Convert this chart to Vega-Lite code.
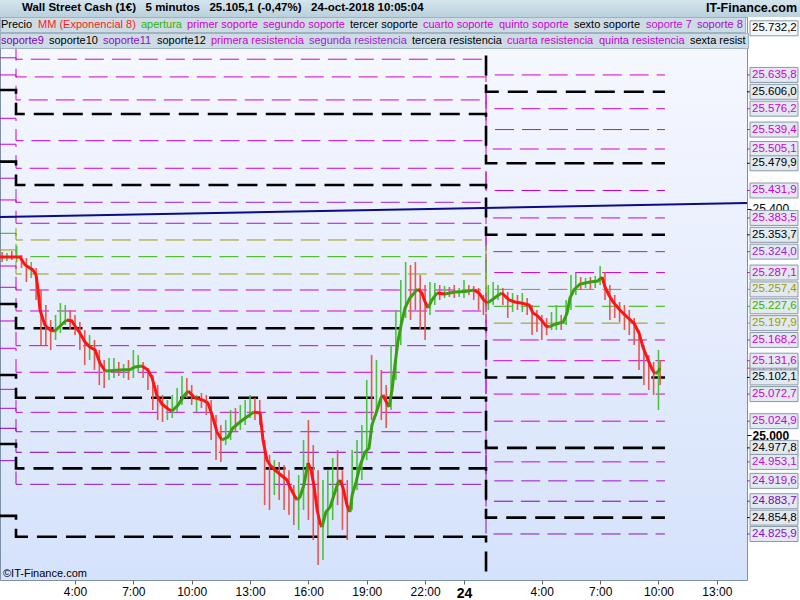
{
"$schema": "https://vega.github.io/schema/vega-lite/v6.json",
"width": 747, "height": 563,
"autosize": {"type": "none"},
"padding": {"left": 0, "top": 17, "right": 53, "bottom": 20},
"background": "#ffffff",
"view": {"fill": {"gradient": "linear", "x1": 0, "y1": 0, "x2": 0, "y2": 1, "stops": [{"offset": 0, "color": "#f8f9ff"}, {"offset": 1, "color": "#d5e2fb"}]}, "stroke": "#7d91a4", "strokeWidth": 1},
"config": {"font": "Liberation Sans", "locale": {"number": {"decimal": ",", "thousands": ".", "grouping": [3], "currency": ["", " €"]}}},
"datasets": {
"niveles": [
{"serie":"undécima resistencia","t":"2018-10-23T00:08","v":25763},{"serie":"undécima resistencia","t":"2018-10-23T00:58","v":25722.3},{"serie":"undécima resistencia","t":"2018-10-24T01:08","v":25635.8},{"serie":"undécima resistencia","t":"2018-10-24T10:20","v":25635.8},
{"serie":"décima resistencia","t":"2018-10-23T00:08","v":25733},{"serie":"décima resistencia","t":"2018-10-23T00:58","v":25692.5},{"serie":"décima resistencia","t":"2018-10-24T01:08","v":25606.0},{"serie":"décima resistencia","t":"2018-10-24T10:20","v":25606.0},
{"serie":"novena resistencia","t":"2018-10-23T00:08","v":25704},{"serie":"novena resistencia","t":"2018-10-23T00:58","v":25663.5},{"serie":"novena resistencia","t":"2018-10-24T01:08","v":25576.2},{"serie":"novena resistencia","t":"2018-10-24T10:20","v":25576.2},
{"serie":"octava resistencia","t":"2018-10-23T00:08","v":25666},{"serie":"octava resistencia","t":"2018-10-23T00:58","v":25632.3},{"serie":"octava resistencia","t":"2018-10-24T01:08","v":25539.4},{"serie":"octava resistencia","t":"2018-10-24T10:20","v":25539.4},
{"serie":"séptima resistencia","t":"2018-10-23T00:08","v":25635.8},{"serie":"séptima resistencia","t":"2018-10-23T00:58","v":25591.7},{"serie":"séptima resistencia","t":"2018-10-24T01:08","v":25505.1},{"serie":"séptima resistencia","t":"2018-10-24T10:20","v":25505.1},
{"serie":"sexta resistencia","t":"2018-10-23T00:08","v":25609.3},{"serie":"sexta resistencia","t":"2018-10-23T00:58","v":25566.9},{"serie":"sexta resistencia","t":"2018-10-24T01:08","v":25479.9},{"serie":"sexta resistencia","t":"2018-10-24T10:20","v":25479.9},
{"serie":"quinta resistencia","t":"2018-10-23T00:08","v":25559.3},{"serie":"quinta resistencia","t":"2018-10-23T00:58","v":25519.8},{"serie":"quinta resistencia","t":"2018-10-24T01:08","v":25431.9},{"serie":"quinta resistencia","t":"2018-10-24T10:20","v":25431.9},
{"serie":"cuarta resistencia","t":"2018-10-23T00:08","v":25513.5},{"serie":"cuarta resistencia","t":"2018-10-23T00:58","v":25471.1},{"serie":"cuarta resistencia","t":"2018-10-24T01:08","v":25383.5},{"serie":"cuarta resistencia","t":"2018-10-24T10:20","v":25383.5},
{"serie":"tercera resistencia","t":"2018-10-23T00:08","v":25482.8},{"serie":"tercera resistencia","t":"2018-10-23T00:58","v":25441.6},{"serie":"tercera resistencia","t":"2018-10-24T01:08","v":25353.7},{"serie":"tercera resistencia","t":"2018-10-24T10:20","v":25353.7},
{"serie":"segunda resistencia","t":"2018-10-23T00:08","v":25453.5},{"serie":"segunda resistencia","t":"2018-10-23T00:58","v":25411.1},{"serie":"segunda resistencia","t":"2018-10-24T01:08","v":25324.0},{"serie":"segunda resistencia","t":"2018-10-24T10:20","v":25324.0},
{"serie":"primera resistencia","t":"2018-10-23T00:08","v":25415.2},{"serie":"primera resistencia","t":"2018-10-23T00:58","v":25374.1},{"serie":"primera resistencia","t":"2018-10-24T01:08","v":25287.1},{"serie":"primera resistencia","t":"2018-10-24T10:20","v":25287.1},
{"serie":"apertura alta","t":"2018-10-23T00:08","v":25385.2},{"serie":"apertura alta","t":"2018-10-23T00:58","v":25344.6},{"serie":"apertura alta","t":"2018-10-24T01:08","v":25257.4},{"serie":"apertura alta","t":"2018-10-24T10:20","v":25257.4},
{"serie":"apertura","t":"2018-10-23T00:08","v":25356.4},{"serie":"apertura","t":"2018-10-23T00:58","v":25315.1},{"serie":"apertura","t":"2018-10-24T01:08","v":25227.6},{"serie":"apertura","t":"2018-10-24T10:20","v":25227.6},
{"serie":"apertura baja","t":"2018-10-23T00:08","v":25327.0},{"serie":"apertura baja","t":"2018-10-23T00:58","v":25284.6},{"serie":"apertura baja","t":"2018-10-24T01:08","v":25197.9},{"serie":"apertura baja","t":"2018-10-24T10:20","v":25197.9},
{"serie":"primer soporte","t":"2018-10-23T00:08","v":25298.7},{"serie":"primer soporte","t":"2018-10-23T00:58","v":25256.4},{"serie":"primer soporte","t":"2018-10-24T01:08","v":25168.2},{"serie":"primer soporte","t":"2018-10-24T10:20","v":25168.2},
{"serie":"segundo soporte","t":"2018-10-23T00:08","v":25261.1},{"serie":"segundo soporte","t":"2018-10-23T00:58","v":25219.3},{"serie":"segundo soporte","t":"2018-10-24T01:08","v":25131.6},{"serie":"segundo soporte","t":"2018-10-24T10:20","v":25131.6},
{"serie":"tercer soporte","t":"2018-10-23T00:08","v":25231.7},{"serie":"tercer soporte","t":"2018-10-23T00:58","v":25188.8},{"serie":"tercer soporte","t":"2018-10-24T01:08","v":25102.1},{"serie":"tercer soporte","t":"2018-10-24T10:20","v":25102.1},
{"serie":"cuarto soporte","t":"2018-10-23T00:08","v":25201.7},{"serie":"cuarto soporte","t":"2018-10-23T00:58","v":25158.1},{"serie":"cuarto soporte","t":"2018-10-24T01:08","v":25072.7},{"serie":"cuarto soporte","t":"2018-10-24T10:20","v":25072.7},
{"serie":"quinto soporte","t":"2018-10-23T00:08","v":25153.5},{"serie":"quinto soporte","t":"2018-10-23T00:58","v":25111.2},{"serie":"quinto soporte","t":"2018-10-24T01:08","v":25024.9},{"serie":"quinto soporte","t":"2018-10-24T10:20","v":25024.9},
{"serie":"sexto soporte","t":"2018-10-23T00:08","v":25106.4},{"serie":"sexto soporte","t":"2018-10-23T00:58","v":25066.3},{"serie":"sexto soporte","t":"2018-10-24T01:08","v":24977.8},{"serie":"sexto soporte","t":"2018-10-24T10:20","v":24977.8},
{"serie":"soporte 7","t":"2018-10-23T00:08","v":25081.1},{"serie":"soporte 7","t":"2018-10-23T00:58","v":25040.5},{"serie":"soporte 7","t":"2018-10-24T01:08","v":24953.1},{"serie":"soporte 7","t":"2018-10-24T10:20","v":24953.1},
{"serie":"soporte 8","t":"2018-10-23T00:08","v":25047.6},{"serie":"soporte 8","t":"2018-10-23T00:58","v":25006.3},{"serie":"soporte 8","t":"2018-10-24T01:08","v":24919.6},{"serie":"soporte 8","t":"2018-10-24T10:20","v":24919.6},
{"serie":"soporte9","t":"2018-10-23T00:08","v":25012.3},{"serie":"soporte9","t":"2018-10-23T00:58","v":24970.0},{"serie":"soporte9","t":"2018-10-24T01:08","v":24883.7},{"serie":"soporte9","t":"2018-10-24T10:20","v":24883.7},
{"serie":"soporte10","t":"2018-10-23T00:08","v":24984.6},{"serie":"soporte10","t":"2018-10-23T00:58","v":24941.7},{"serie":"soporte10","t":"2018-10-24T01:08","v":24854.8},{"serie":"soporte10","t":"2018-10-24T10:20","v":24854.8},
{"serie":"soporte11","t":"2018-10-23T00:08","v":24955.2},{"serie":"soporte11","t":"2018-10-23T00:58","v":24913.5},{"serie":"soporte11","t":"2018-10-24T01:08","v":24825.9},{"serie":"soporte11","t":"2018-10-24T10:20","v":24825.9},
{"serie":"soporte12","t":"2018-10-23T00:08","v":24857.9},{"serie":"soporte12","t":"2018-10-23T00:58","v":24821.1},{"serie":"soporte12","t":"2018-10-24T01:08","v":24734.0},{"serie":"soporte12","t":"2018-10-24T10:20","v":24734.0}
],
"tendencia": [{"t":"2018-10-23T00:08:36","v":25385.2},{"t":"2018-10-24T14:33:06","v":25409.9}],
"velas": [
{"t":"2018-10-23T00:15","lo":25305.8,"hi":25323.4,"sentido":"baja"},
{"t":"2018-10-23T00:30","lo":25307.5,"hi":25321.6,"sentido":"sube"},
{"t":"2018-10-23T00:45","lo":25309.3,"hi":25325.2,"sentido":"baja"},
{"t":"2018-10-23T01:00","lo":25305.8,"hi":25334.0,"sentido":"sube"},
{"t":"2018-10-23T01:15","lo":25295.2,"hi":25318.1,"sentido":"baja"},
{"t":"2018-10-23T01:30","lo":25270.5,"hi":25312.8,"sentido":"baja"},
{"t":"2018-10-23T01:45","lo":25277.5,"hi":25305.8,"sentido":"sube"},
{"t":"2018-10-23T02:00","lo":25238.7,"hi":25295.2,"sentido":"baja"},
{"t":"2018-10-23T02:15","lo":25159.3,"hi":25256.4,"sentido":"baja"},
{"t":"2018-10-23T02:30","lo":25159.3,"hi":25229.9,"sentido":"baja"},
{"t":"2018-10-23T02:45","lo":25150.5,"hi":25203.4,"sentido":"baja"},
{"t":"2018-10-23T03:00","lo":25168.1,"hi":25212.2,"sentido":"sube"},
{"t":"2018-10-23T03:15","lo":25180.5,"hi":25233.4,"sentido":"sube"},
{"t":"2018-10-23T03:30","lo":25194.6,"hi":25229.9,"sentido":"sube"},
{"t":"2018-10-23T03:45","lo":25185.8,"hi":25221.1,"sentido":"baja"},
{"t":"2018-10-23T04:00","lo":25176.9,"hi":25212.2,"sentido":"baja"},
{"t":"2018-10-23T04:15","lo":25150.5,"hi":25199.9,"sentido":"baja"},
{"t":"2018-10-23T04:30","lo":25124.0,"hi":25185.8,"sentido":"baja"},
{"t":"2018-10-23T04:45","lo":25132.9,"hi":25176.9,"sentido":"sube"},
{"t":"2018-10-23T05:00","lo":25115.2,"hi":25168.1,"sentido":"baja"},
{"t":"2018-10-23T05:15","lo":25088.7,"hi":25150.5,"sentido":"baja"},
{"t":"2018-10-23T05:30","lo":25083.4,"hi":25132.9,"sentido":"baja"},
{"t":"2018-10-23T05:45","lo":25097.6,"hi":25136.4,"sentido":"sube"},
{"t":"2018-10-23T06:00","lo":25101.1,"hi":25136.4,"sentido":"sube"},
{"t":"2018-10-23T06:15","lo":25104.6,"hi":25129.3,"sentido":"baja"},
{"t":"2018-10-23T06:30","lo":25101.1,"hi":25125.8,"sentido":"sube"},
{"t":"2018-10-23T06:45","lo":25097.6,"hi":25132.9,"sentido":"baja"},
{"t":"2018-10-23T07:00","lo":25101.1,"hi":25150.5,"sentido":"sube"},
{"t":"2018-10-23T07:15","lo":25111.7,"hi":25141.6,"sentido":"sube"},
{"t":"2018-10-23T07:30","lo":25101.1,"hi":25129.3,"sentido":"baja"},
{"t":"2018-10-23T07:45","lo":25079.9,"hi":25118.7,"sentido":"baja"},
{"t":"2018-10-23T08:00","lo":25044.6,"hi":25106.4,"sentido":"baja"},
{"t":"2018-10-23T08:15","lo":25026.8,"hi":25088.7,"sentido":"baja"},
{"t":"2018-10-23T08:30","lo":25023.4,"hi":25071.1,"sentido":"baja"},
{"t":"2018-10-23T08:45","lo":25026.8,"hi":25062.3,"sentido":"sube"},
{"t":"2018-10-23T09:00","lo":25030.5,"hi":25071.1,"sentido":"sube"},
{"t":"2018-10-23T09:15","lo":25041.1,"hi":25083.4,"sentido":"sube"},
{"t":"2018-10-23T09:30","lo":25053.5,"hi":25104.6,"sentido":"sube"},
{"t":"2018-10-23T09:45","lo":25065.8,"hi":25101.1,"sentido":"baja"},
{"t":"2018-10-23T10:00","lo":25053.5,"hi":25088.7,"sentido":"baja"},
{"t":"2018-10-23T10:15","lo":25041.1,"hi":25071.1,"sentido":"sube"},
{"t":"2018-10-23T10:30","lo":25048.1,"hi":25074.6,"sentido":"baja"},
{"t":"2018-10-23T10:45","lo":25035.8,"hi":25071.1,"sentido":"baja"},
{"t":"2018-10-23T11:00","lo":24991.7,"hi":25062.3,"sentido":"baja"},
{"t":"2018-10-23T11:15","lo":24956.3,"hi":25035.8,"sentido":"baja"},
{"t":"2018-10-23T11:30","lo":24952.8,"hi":25018.2,"sentido":"baja"},
{"t":"2018-10-23T11:45","lo":24982.8,"hi":25026.8,"sentido":"sube"},
{"t":"2018-10-23T12:00","lo":24991.7,"hi":25044.6,"sentido":"sube"},
{"t":"2018-10-23T12:15","lo":25005.8,"hi":25048.1,"sentido":"baja"},
{"t":"2018-10-23T12:30","lo":25009.3,"hi":25053.5,"sentido":"sube"},
{"t":"2018-10-23T12:45","lo":25018.2,"hi":25062.3,"sentido":"sube"},
{"t":"2018-10-23T13:00","lo":25030.5,"hi":25071.1,"sentido":"sube"},
{"t":"2018-10-23T13:15","lo":25026.8,"hi":25065.8,"sentido":"baja"},
{"t":"2018-10-23T13:30","lo":25018.2,"hi":25062.3,"sentido":"baja"},
{"t":"2018-10-23T13:45","lo":24876.9,"hi":24991.7,"sentido":"baja"},
{"t":"2018-10-23T14:00","lo":24868.2,"hi":24965.2,"sentido":"baja"},
{"t":"2018-10-23T14:15","lo":24894.6,"hi":24956.3,"sentido":"sube"},
{"t":"2018-10-23T14:30","lo":24885.8,"hi":24952.8,"sentido":"baja"},
{"t":"2018-10-23T14:45","lo":24868.2,"hi":24947.4,"sentido":"baja"},
{"t":"2018-10-23T15:00","lo":24859.4,"hi":24938.5,"sentido":"baja"},
{"t":"2018-10-23T15:15","lo":24841.7,"hi":24912.2,"sentido":"baja"},
{"t":"2018-10-23T15:30","lo":24832.9,"hi":24929.8,"sentido":"sube"},
{"t":"2018-10-23T15:45","lo":24868.2,"hi":24991.7,"sentido":"sube"},
{"t":"2018-10-23T16:00","lo":24850.5,"hi":25026.8,"sentido":"baja"},
{"t":"2018-10-23T16:15","lo":24815.2,"hi":24982.8,"sentido":"baja"},
{"t":"2018-10-23T16:30","lo":24771.1,"hi":24938.5,"sentido":"baja"},
{"t":"2018-10-23T16:45","lo":24779.9,"hi":24921.0,"sentido":"sube"},
{"t":"2018-10-23T17:00","lo":24824.0,"hi":24938.5,"sentido":"sube"},
{"t":"2018-10-23T17:15","lo":24850.5,"hi":24959.9,"sentido":"sube"},
{"t":"2018-10-23T17:30","lo":24876.9,"hi":24974.0,"sentido":"baja"},
{"t":"2018-10-23T17:45","lo":24832.9,"hi":24938.5,"sentido":"baja"},
{"t":"2018-10-23T18:00","lo":24815.2,"hi":24921.0,"sentido":"baja"},
{"t":"2018-10-23T18:15","lo":24868.2,"hi":24974.0,"sentido":"sube"},
{"t":"2018-10-23T18:30","lo":24903.4,"hi":24991.7,"sentido":"sube"},
{"t":"2018-10-23T18:45","lo":24921.0,"hi":25018.2,"sentido":"sube"},
{"t":"2018-10-23T19:00","lo":24956.3,"hi":25097.6,"sentido":"sube"},
{"t":"2018-10-23T19:15","lo":25026.8,"hi":25141.6,"sentido":"baja"},
{"t":"2018-10-23T19:30","lo":25041.1,"hi":25132.9,"sentido":"sube"},
{"t":"2018-10-23T19:45","lo":25026.8,"hi":25115.2,"sentido":"baja"},
{"t":"2018-10-23T20:00","lo":25012.8,"hi":25088.7,"sentido":"baja"},
{"t":"2018-10-23T20:15","lo":25044.6,"hi":25159.3,"sentido":"sube"},
{"t":"2018-10-23T20:30","lo":25097.6,"hi":25221.1,"sentido":"sube"},
{"t":"2018-10-23T20:45","lo":25159.3,"hi":25274.0,"sentido":"sube"},
{"t":"2018-10-23T21:00","lo":25206.9,"hi":25305.8,"sentido":"sube"},
{"t":"2018-10-23T21:15","lo":25203.4,"hi":25300.5,"sentido":"baja"},
{"t":"2018-10-23T21:30","lo":25221.1,"hi":25305.8,"sentido":"baja"},
{"t":"2018-10-23T21:45","lo":25185.8,"hi":25282.8,"sentido":"baja"},
{"t":"2018-10-23T22:00","lo":25168.1,"hi":25265.2,"sentido":"baja"},
{"t":"2018-10-23T22:15","lo":25212.2,"hi":25270.5,"sentido":"sube"},
{"t":"2018-10-23T22:30","lo":25229.9,"hi":25268.7,"sentido":"sube"},
{"t":"2018-10-23T22:45","lo":25238.7,"hi":25265.2,"sentido":"baja"},
{"t":"2018-10-23T23:00","lo":25242.3,"hi":25263.4,"sentido":"sube"},
{"t":"2018-10-23T23:15","lo":25244.0,"hi":25261.6,"sentido":"baja"},
{"t":"2018-10-23T23:30","lo":25242.3,"hi":25265.2,"sentido":"baja"},
{"t":"2018-10-23T23:45","lo":25244.0,"hi":25259.9,"sentido":"sube"},
{"t":"2018-10-24T00:00","lo":25242.3,"hi":25274.0,"sentido":"sube"},
{"t":"2018-10-24T00:15","lo":25247.6,"hi":25265.2,"sentido":"baja"},
{"t":"2018-10-24T00:30","lo":25238.7,"hi":25263.4,"sentido":"baja"},
{"t":"2018-10-24T00:45","lo":25221.1,"hi":25259.9,"sentido":"baja"},
{"t":"2018-10-24T01:00","lo":25212.2,"hi":25247.6,"sentido":"baja"},
{"t":"2018-10-24T01:15","lo":25221.1,"hi":25265.2,"sentido":"sube"},
{"t":"2018-10-24T01:30","lo":25229.9,"hi":25270.5,"sentido":"sube"},
{"t":"2018-10-24T01:45","lo":25238.7,"hi":25265.2,"sentido":"sube"},
{"t":"2018-10-24T02:00","lo":25229.9,"hi":25259.9,"sentido":"baja"},
{"t":"2018-10-24T02:15","lo":25206.9,"hi":25252.8,"sentido":"baja"},
{"t":"2018-10-24T02:30","lo":25217.5,"hi":25251.1,"sentido":"sube"},
{"t":"2018-10-24T02:45","lo":25221.1,"hi":25247.6,"sentido":"baja"},
{"t":"2018-10-24T03:00","lo":25217.5,"hi":25251.1,"sentido":"sube"},
{"t":"2018-10-24T03:15","lo":25212.2,"hi":25242.3,"sentido":"baja"},
{"t":"2018-10-24T03:30","lo":25176.9,"hi":25229.9,"sentido":"baja"},
{"t":"2018-10-24T03:45","lo":25182.2,"hi":25221.1,"sentido":"baja"},
{"t":"2018-10-24T04:00","lo":25168.1,"hi":25212.2,"sentido":"baja"},
{"t":"2018-10-24T04:15","lo":25176.9,"hi":25206.9,"sentido":"baja"},
{"t":"2018-10-24T04:30","lo":25185.8,"hi":25217.5,"sentido":"sube"},
{"t":"2018-10-24T04:45","lo":25185.8,"hi":25229.9,"sentido":"sube"},
{"t":"2018-10-24T05:00","lo":25185.8,"hi":25212.2,"sentido":"baja"},
{"t":"2018-10-24T05:15","lo":25194.6,"hi":25238.7,"sentido":"sube"},
{"t":"2018-10-24T05:30","lo":25221.1,"hi":25282.8,"sentido":"sube"},
{"t":"2018-10-24T05:45","lo":25247.6,"hi":25286.4,"sentido":"sube"},
{"t":"2018-10-24T06:00","lo":25256.4,"hi":25279.3,"sentido":"baja"},
{"t":"2018-10-24T06:15","lo":25259.9,"hi":25277.5,"sentido":"sube"},
{"t":"2018-10-24T06:30","lo":25258.1,"hi":25279.3,"sentido":"baja"},
{"t":"2018-10-24T06:45","lo":25259.9,"hi":25281.1,"sentido":"sube"},
{"t":"2018-10-24T07:00","lo":25265.2,"hi":25298.7,"sentido":"sube"},
{"t":"2018-10-24T07:15","lo":25238.7,"hi":25288.1,"sentido":"baja"},
{"t":"2018-10-24T07:30","lo":25203.4,"hi":25265.2,"sentido":"baja"},
{"t":"2018-10-24T07:45","lo":25206.9,"hi":25247.6,"sentido":"baja"},
{"t":"2018-10-24T08:00","lo":25199.9,"hi":25235.2,"sentido":"baja"},
{"t":"2018-10-24T08:15","lo":25185.8,"hi":25229.9,"sentido":"baja"},
{"t":"2018-10-24T08:30","lo":25176.9,"hi":25221.1,"sentido":"baja"},
{"t":"2018-10-24T08:45","lo":25159.3,"hi":25206.9,"sentido":"baja"},
{"t":"2018-10-24T09:00","lo":25115.2,"hi":25185.8,"sentido":"baja"},
{"t":"2018-10-24T09:15","lo":25088.7,"hi":25159.3,"sentido":"baja"},
{"t":"2018-10-24T09:30","lo":25079.9,"hi":25141.6,"sentido":"baja"},
{"t":"2018-10-24T09:45","lo":25071.1,"hi":25129.3,"sentido":"baja"},
{"t":"2018-10-24T10:00","lo":25044.6,"hi":25150.5,"sentido":"sube"},
{"t":"2018-10-24T10:05","lo":25088.7,"hi":25132.9,"sentido":"baja"}
],
"mm": [
{"t":"2018-10-23T00:09","v":25314.6,"tramo":1,"sentido":"baja"},{"t":"2018-10-23T01:10","v":25314.6,"tramo":1,"sentido":"baja"},{"t":"2018-10-23T01:26","v":25300.5,"tramo":1,"sentido":"baja"},{"t":"2018-10-23T01:50","v":25291.7,"tramo":1,"sentido":"baja"},{"t":"2018-10-23T02:00","v":25282.9,"tramo":1,"sentido":"baja"},{"t":"2018-10-23T02:06","v":25256.4,"tramo":1,"sentido":"baja"},{"t":"2018-10-23T02:12","v":25221.1,"tramo":1,"sentido":"baja"},{"t":"2018-10-23T02:27","v":25194.6,"tramo":1,"sentido":"baja"},{"t":"2018-10-23T02:43","v":25185.8,"tramo":1,"sentido":"baja"},{"t":"2018-10-23T02:58","v":25184.0,"tramo":1,"sentido":"baja"},
{"t":"2018-10-23T02:58","v":25184.0,"tramo":2,"sentido":"sube"},{"t":"2018-10-23T03:14","v":25192.8,"tramo":2,"sentido":"sube"},{"t":"2018-10-23T03:34","v":25203.4,"tramo":2,"sentido":"sube"},
{"t":"2018-10-23T03:34","v":25203.4,"tramo":3,"sentido":"baja"},{"t":"2018-10-23T03:50","v":25201.7,"tramo":3,"sentido":"baja"},{"t":"2018-10-23T04:00","v":25192.8,"tramo":3,"sentido":"baja"},{"t":"2018-10-23T04:15","v":25180.5,"tramo":3,"sentido":"baja"},{"t":"2018-10-23T04:31","v":25164.6,"tramo":3,"sentido":"baja"},{"t":"2018-10-23T04:46","v":25155.8,"tramo":3,"sentido":"baja"},{"t":"2018-10-23T05:02","v":25150.5,"tramo":3,"sentido":"baja"},{"t":"2018-10-23T05:17","v":25127.5,"tramo":3,"sentido":"baja"},{"t":"2018-10-23T05:33","v":25113.4,"tramo":3,"sentido":"baja"},
{"t":"2018-10-23T05:33","v":25113.4,"tramo":4,"sentido":"sube"},{"t":"2018-10-23T05:48","v":25113.9,"tramo":4,"sentido":"sube"},{"t":"2018-10-23T06:19","v":25115.2,"tramo":4,"sentido":"sube"},{"t":"2018-10-23T06:50","v":25116.0,"tramo":4,"sentido":"sube"},{"t":"2018-10-23T07:05","v":25120.5,"tramo":4,"sentido":"sube"},{"t":"2018-10-23T07:27","v":25122.3,"tramo":4,"sentido":"sube"},
{"t":"2018-10-23T07:27","v":25122.3,"tramo":5,"sentido":"baja"},{"t":"2018-10-23T07:45","v":25115.2,"tramo":5,"sentido":"baja"},{"t":"2018-10-23T07:58","v":25101.1,"tramo":5,"sentido":"baja"},{"t":"2018-10-23T08:13","v":25069.3,"tramo":5,"sentido":"baja"},{"t":"2018-10-23T08:28","v":25055.2,"tramo":5,"sentido":"baja"},{"t":"2018-10-23T08:47","v":25046.4,"tramo":5,"sentido":"baja"},{"t":"2018-10-23T08:59","v":25042.8,"tramo":5,"sentido":"baja"},
{"t":"2018-10-23T08:59","v":25042.8,"tramo":6,"sentido":"sube"},{"t":"2018-10-23T09:18","v":25053.5,"tramo":6,"sentido":"sube"},{"t":"2018-10-23T09:36","v":25069.3,"tramo":6,"sentido":"sube"},{"t":"2018-10-23T09:49","v":25078.1,"tramo":6,"sentido":"sube"},
{"t":"2018-10-23T09:49","v":25078.1,"tramo":7,"sentido":"baja"},{"t":"2018-10-23T10:10","v":25065.8,"tramo":7,"sentido":"baja"},{"t":"2018-10-23T10:35","v":25062.2,"tramo":7,"sentido":"baja"},{"t":"2018-10-23T10:50","v":25056.9,"tramo":7,"sentido":"baja"},{"t":"2018-10-23T11:03","v":25035.8,"tramo":7,"sentido":"baja"},{"t":"2018-10-23T11:18","v":25005.8,"tramo":7,"sentido":"baja"},{"t":"2018-10-23T11:33","v":24991.7,"tramo":7,"sentido":"baja"},
{"t":"2018-10-23T11:33","v":24991.7,"tramo":8,"sentido":"sube"},{"t":"2018-10-23T11:52","v":24996.9,"tramo":8,"sentido":"sube"},{"t":"2018-10-23T12:07","v":25012.8,"tramo":8,"sentido":"sube"},{"t":"2018-10-23T12:29","v":25023.4,"tramo":8,"sentido":"sube"},{"t":"2018-10-23T12:54","v":25034.0,"tramo":8,"sentido":"sube"},{"t":"2018-10-23T13:12","v":25041.1,"tramo":8,"sentido":"sube"},
{"t":"2018-10-23T13:12","v":25041.1,"tramo":9,"sentido":"baja"},{"t":"2018-10-23T13:31","v":25039.3,"tramo":9,"sentido":"baja"},{"t":"2018-10-23T13:40","v":24991.7,"tramo":9,"sentido":"baja"},{"t":"2018-10-23T13:52","v":24956.5,"tramo":9,"sentido":"baja"},{"t":"2018-10-23T14:02","v":24947.6,"tramo":9,"sentido":"baja"},{"t":"2018-10-23T14:17","v":24938.7,"tramo":9,"sentido":"baja"},{"t":"2018-10-23T14:39","v":24928.2,"tramo":9,"sentido":"baja"},{"t":"2018-10-23T14:54","v":24921.1,"tramo":9,"sentido":"baja"},{"t":"2018-10-23T15:03","v":24908.7,"tramo":9,"sentido":"baja"},{"t":"2018-10-23T15:16","v":24894.6,"tramo":9,"sentido":"baja"},{"t":"2018-10-23T15:25","v":24885.8,"tramo":9,"sentido":"baja"},
{"t":"2018-10-23T15:25","v":24885.8,"tramo":10,"sentido":"sube"},{"t":"2018-10-23T15:34","v":24891.1,"tramo":10,"sentido":"sube"},{"t":"2018-10-23T15:46","v":24912.3,"tramo":10,"sentido":"sube"},{"t":"2018-10-23T15:59","v":24951.1,"tramo":10,"sentido":"sube"},
{"t":"2018-10-23T15:59","v":24951.1,"tramo":11,"sentido":"baja"},{"t":"2018-10-23T16:08","v":24938.7,"tramo":11,"sentido":"baja"},{"t":"2018-10-23T16:17","v":24912.3,"tramo":11,"sentido":"baja"},{"t":"2018-10-23T16:27","v":24868.2,"tramo":11,"sentido":"baja"},{"t":"2018-10-23T16:36","v":24845.2,"tramo":11,"sentido":"baja"},{"t":"2018-10-23T16:42","v":24838.2,"tramo":11,"sentido":"baja"},
{"t":"2018-10-23T16:42","v":24838.2,"tramo":12,"sentido":"sube"},{"t":"2018-10-23T16:54","v":24864.6,"tramo":12,"sentido":"sube"},{"t":"2018-10-23T17:07","v":24873.5,"tramo":12,"sentido":"sube"},{"t":"2018-10-23T17:19","v":24894.6,"tramo":12,"sentido":"sube"},{"t":"2018-10-23T17:31","v":24915.8,"tramo":12,"sentido":"sube"},{"t":"2018-10-23T17:38","v":24921.1,"tramo":12,"sentido":"sube"},
{"t":"2018-10-23T17:38","v":24921.1,"tramo":13,"sentido":"baja"},{"t":"2018-10-23T17:47","v":24907.0,"tramo":13,"sentido":"baja"},{"t":"2018-10-23T17:59","v":24877.0,"tramo":13,"sentido":"baja"},{"t":"2018-10-23T18:08","v":24864.6,"tramo":13,"sentido":"baja"},
{"t":"2018-10-23T18:08","v":24864.6,"tramo":14,"sentido":"sube"},{"t":"2018-10-23T18:15","v":24894.6,"tramo":14,"sentido":"sube"},{"t":"2018-10-23T18:27","v":24917.5,"tramo":14,"sentido":"sube"},{"t":"2018-10-23T18:39","v":24945.8,"tramo":14,"sentido":"sube"},{"t":"2018-10-23T18:55","v":24970.4,"tramo":14,"sentido":"sube"},{"t":"2018-10-23T19:07","v":24977.5,"tramo":14,"sentido":"sube"},{"t":"2018-10-23T19:16","v":25018.1,"tramo":14,"sentido":"sube"},{"t":"2018-10-23T19:32","v":25044.6,"tramo":14,"sentido":"sube"},{"t":"2018-10-23T19:44","v":25065.8,"tramo":14,"sentido":"sube"},{"t":"2018-10-23T19:50","v":25071.1,"tramo":14,"sentido":"sube"},
{"t":"2018-10-23T19:50","v":25071.1,"tramo":15,"sentido":"baja"},{"t":"2018-10-23T19:59","v":25060.5,"tramo":15,"sentido":"baja"},{"t":"2018-10-23T20:09","v":25049.9,"tramo":15,"sentido":"baja"},
{"t":"2018-10-23T20:09","v":25049.9,"tramo":16,"sentido":"sube"},{"t":"2018-10-23T20:18","v":25079.9,"tramo":16,"sentido":"sube"},{"t":"2018-10-23T20:27","v":25124.0,"tramo":16,"sentido":"sube"},{"t":"2018-10-23T20:36","v":25164.6,"tramo":16,"sentido":"sube"},{"t":"2018-10-23T20:46","v":25194.6,"tramo":16,"sentido":"sube"},{"t":"2018-10-23T20:58","v":25224.6,"tramo":16,"sentido":"sube"},{"t":"2018-10-23T21:13","v":25242.3,"tramo":16,"sentido":"sube"},{"t":"2018-10-23T21:29","v":25252.9,"tramo":16,"sentido":"sube"},{"t":"2018-10-23T21:38","v":25258.1,"tramo":16,"sentido":"sube"},
{"t":"2018-10-23T21:38","v":25258.1,"tramo":17,"sentido":"baja"},{"t":"2018-10-23T21:50","v":25251.1,"tramo":17,"sentido":"baja"},{"t":"2018-10-23T22:00","v":25235.2,"tramo":17,"sentido":"baja"},{"t":"2018-10-23T22:09","v":25224.6,"tramo":17,"sentido":"baja"},
{"t":"2018-10-23T22:09","v":25224.6,"tramo":18,"sentido":"sube"},{"t":"2018-10-23T22:21","v":25238.7,"tramo":18,"sentido":"sube"},{"t":"2018-10-23T22:37","v":25251.1,"tramo":18,"sentido":"sube"},
{"t":"2018-10-23T22:37","v":25251.1,"tramo":19,"sentido":"baja"},{"t":"2018-10-23T23:01","v":25249.3,"tramo":19,"sentido":"baja"},
{"t":"2018-10-23T23:01","v":25249.3,"tramo":20,"sentido":"sube"},{"t":"2018-10-23T23:32","v":25252.9,"tramo":20,"sentido":"sube"},{"t":"2018-10-24T00:03","v":25253.5,"tramo":20,"sentido":"sube"},{"t":"2018-10-24T00:31","v":25256.4,"tramo":20,"sentido":"sube"},
{"t":"2018-10-24T00:31","v":25256.4,"tramo":21,"sentido":"baja"},{"t":"2018-10-24T00:46","v":25251.1,"tramo":21,"sentido":"baja"},{"t":"2018-10-24T00:59","v":25240.5,"tramo":21,"sentido":"baja"},{"t":"2018-10-24T01:11","v":25233.4,"tramo":21,"sentido":"baja"},
{"t":"2018-10-24T01:11","v":25233.4,"tramo":22,"sentido":"sube"},{"t":"2018-10-24T01:26","v":25238.7,"tramo":22,"sentido":"sube"},{"t":"2018-10-24T01:42","v":25245.8,"tramo":22,"sentido":"sube"},{"t":"2018-10-24T01:57","v":25251.1,"tramo":22,"sentido":"sube"},
{"t":"2018-10-24T01:57","v":25251.1,"tramo":23,"sentido":"baja"},{"t":"2018-10-24T02:19","v":25238.7,"tramo":23,"sentido":"baja"},{"t":"2018-10-24T02:37","v":25235.2,"tramo":23,"sentido":"baja"},{"t":"2018-10-24T02:56","v":25233.4,"tramo":23,"sentido":"baja"},{"t":"2018-10-24T03:21","v":25229.9,"tramo":23,"sentido":"baja"},{"t":"2018-10-24T03:33","v":25215.7,"tramo":23,"sentido":"baja"},{"t":"2018-10-24T03:48","v":25210.4,"tramo":23,"sentido":"baja"},{"t":"2018-10-24T04:01","v":25201.7,"tramo":23,"sentido":"baja"},{"t":"2018-10-24T04:13","v":25192.8,"tramo":23,"sentido":"baja"},{"t":"2018-10-24T04:22","v":25191.1,"tramo":23,"sentido":"baja"},
{"t":"2018-10-24T04:22","v":25191.1,"tramo":24,"sentido":"sube"},{"t":"2018-10-24T04:44","v":25196.4,"tramo":24,"sentido":"sube"},{"t":"2018-10-24T05:06","v":25199.9,"tramo":24,"sentido":"sube"},{"t":"2018-10-24T05:18","v":25215.7,"tramo":24,"sentido":"sube"},{"t":"2018-10-24T05:27","v":25242.3,"tramo":24,"sentido":"sube"},{"t":"2018-10-24T05:39","v":25256.4,"tramo":24,"sentido":"sube"},{"t":"2018-10-24T05:58","v":25266.9,"tramo":24,"sentido":"sube"},{"t":"2018-10-24T06:29","v":25270.5,"tramo":24,"sentido":"sube"},{"t":"2018-10-24T06:53","v":25272.3,"tramo":24,"sentido":"sube"},{"t":"2018-10-24T07:06","v":25279.3,"tramo":24,"sentido":"sube"},
{"t":"2018-10-24T07:06","v":25279.3,"tramo":25,"sentido":"baja"},{"t":"2018-10-24T07:15","v":25261.6,"tramo":25,"sentido":"baja"},{"t":"2018-10-24T07:27","v":25247.6,"tramo":25,"sentido":"baja"},{"t":"2018-10-24T07:40","v":25235.2,"tramo":25,"sentido":"baja"},{"t":"2018-10-24T08:01","v":25221.1,"tramo":25,"sentido":"baja"},{"t":"2018-10-24T08:23","v":25208.7,"tramo":25,"sentido":"baja"},{"t":"2018-10-24T08:44","v":25198.1,"tramo":25,"sentido":"baja"},{"t":"2018-10-24T09:00","v":25180.5,"tramo":25,"sentido":"baja"},{"t":"2018-10-24T09:12","v":25155.8,"tramo":25,"sentido":"baja"},{"t":"2018-10-24T09:28","v":25132.9,"tramo":25,"sentido":"baja"},{"t":"2018-10-24T09:40","v":25117.0,"tramo":25,"sentido":"baja"},{"t":"2018-10-24T09:50","v":25108.2,"tramo":25,"sentido":"baja"},
{"t":"2018-10-24T09:50","v":25108.2,"tramo":26,"sentido":"sube"},{"t":"2018-10-24T10:00","v":25113.0,"tramo":26,"sentido":"sube"},{"t":"2018-10-24T10:05","v":25118.5,"tramo":26,"sentido":"sube"}
],
"etiquetas": [
{"serie":"Precio","v":25732.2},
{"serie":"undécima resistencia","v":25635.8},
{"serie":"décima resistencia","v":25606.0},
{"serie":"novena resistencia","v":25576.2},
{"serie":"octava resistencia","v":25539.4},
{"serie":"séptima resistencia","v":25505.1},
{"serie":"sexta resistencia","v":25479.9},
{"serie":"quinta resistencia","v":25431.9},
{"serie":"cuarta resistencia","v":25383.5},
{"serie":"tercera resistencia","v":25353.7},
{"serie":"segunda resistencia","v":25324.0},
{"serie":"primera resistencia","v":25287.1},
{"serie":"apertura alta","v":25257.4},
{"serie":"apertura","v":25227.6},
{"serie":"apertura baja","v":25197.9},
{"serie":"primer soporte","v":25168.2},
{"serie":"segundo soporte","v":25131.6},
{"serie":"MM (Exponencial 8)","v":25118.5},
{"serie":"tercer soporte","v":25102.1},
{"serie":"cuarto soporte","v":25072.7},
{"serie":"quinto soporte","v":25024.9},
{"serie":"sexto soporte","v":24977.8},
{"serie":"soporte 7","v":24953.1},
{"serie":"soporte 8","v":24919.6},
{"serie":"soporte9","v":24883.7},
{"serie":"soporte10","v":24854.8},
{"serie":"soporte11","v":24825.9}
]
},
"layer": [
{"data": {"name": "niveles"},
 "transform": [{"filter": {"not": {"field": "serie", "oneOf": ["tercer soporte","sexto soporte","soporte10","soporte12","tercera resistencia","sexta resistencia","décima resistencia"]}}}],
 "mark": {"type": "line", "interpolate": "step-after", "strokeWidth": 1, "strokeDash": [19, 8], "clip": true},
 "encoding": {
  "x": {"field": "t", "type": "temporal",
   "scale": {"domain": [{"year":2018,"month":10,"date":23,"hours":0,"minutes":8,"seconds":36},{"year":2018,"month":10,"date":24,"hours":14,"minutes":33,"seconds":6}]},
   "axis": {"title": null, "grid": false, "domain": false,
    "values": [{"year":2018,"month":10,"date":23,"hours":4},{"year":2018,"month":10,"date":23,"hours":7},{"year":2018,"month":10,"date":23,"hours":10},{"year":2018,"month":10,"date":23,"hours":13},{"year":2018,"month":10,"date":23,"hours":16},{"year":2018,"month":10,"date":23,"hours":19},{"year":2018,"month":10,"date":23,"hours":22},{"year":2018,"month":10,"date":24,"hours":0},{"year":2018,"month":10,"date":24,"hours":4},{"year":2018,"month":10,"date":24,"hours":7},{"year":2018,"month":10,"date":24,"hours":10},{"year":2018,"month":10,"date":24,"hours":13}],
    "labelExpr": "hours(datum.value) == 0 ? '24' : timeFormat(datum.value, '%-H:%M')",
    "labelFontWeight": {"condition": {"test": "hours(datum.value) == 0", "value": "bold"}, "value": "normal"},
    "labelFontSize": {"condition": {"test": "hours(datum.value) == 0", "value": 14}, "value": 12},
    "labelFont": "Liberation Sans Narrow, Liberation Sans, sans-serif",
    "labelColor": "#000000", "tickColor": "#666666", "tickSize": 4, "labelPadding": 2, "labelFlush": false, "labelOverlap": false}},
  "y": {"field": "v", "type": "quantitative",
   "scale": {"domain": [24744.7, 25738], "nice": false, "zero": false},
   "axis": {"orient": "right", "title": null, "grid": false, "domain": false, "values": [25000, 25400], "format": ",.0f",
    "labelFontWeight": {"condition": {"test": "datum.value == 25000", "value": "bold"}, "value": "normal"},
    "labelFontSize": 12, "labelColor": "#000000", "tickColor": "#000000", "tickSize": 4, "labelPadding": 1}},
  "color": {"field": "serie", "type": "nominal",
  "scale": {"domain": ["Precio","MM (Exponencial 8)","apertura","primer soporte","segundo soporte","tercer soporte","cuarto soporte","quinto soporte","sexto soporte","soporte 7","soporte 8","soporte9","soporte10","soporte11","soporte12","primera resistencia","segunda resistencia","tercera resistencia","cuarta resistencia","quinta resistencia","sexta resistencia","séptima resistencia","octava resistencia","novena resistencia","décima resistencia","undécima resistencia","apertura alta","apertura baja"],
   "range": ["#000000","#ff1a1a","#2fb400","#d000d0","#d000d0","#000000","#d000d0","#cc00d8","#000000","#bb10d0","#a010d0","#8000c0","#000000","#8a10cc","#000000","#d000d0","#a020d8","#000000","#d000d0","#c400dc","#000000","#d000d0","#d000d0","#d000d0","#000000","#d000d0","#9a9a00","#9a9a00"]},
  "legend": {"orient": "none", "legendX": 0, "legendY": 0, "direction": "horizontal", "title": null,
   "columnPadding": 5, "padding": 2, "labelFontSize": 11, "labelLimit": 200, "labelOffset": -12,
   "symbolSize": 1, "symbolType": "circle", "symbolOpacity": 0, "symbolStrokeWidth": 0,
   "fillColor": "#cddbe4", "strokeColor": "#9fb2bf", "zindex": 1,
   "values": ["Precio","MM (Exponencial 8)","apertura","primer soporte","segundo soporte","tercer soporte","cuarto soporte","quinto soporte","sexto soporte","soporte 7","soporte 8"],
   "encode": {"labels": {"update": {"fill": {"scale": "color", "field": "value"}}}}}}}},
{"data": {"name": "niveles"},
 "transform": [{"filter": {"field": "serie", "oneOf": ["tercer soporte","sexto soporte","soporte10","soporte12","tercera resistencia","sexta resistencia","décima resistencia"]}}],
 "mark": {"type": "line", "interpolate": "step-after", "strokeWidth": 2.6, "strokeDash": [20, 9], "clip": true},
 "encoding": {
  "x": {"field": "t", "type": "temporal"},
  "y": {"field": "v", "type": "quantitative"},
  "stroke": {"field": "serie", "type": "nominal",
  "scale": {"domain": ["soporte9","soporte10","soporte11","soporte12","primera resistencia","segunda resistencia","tercera resistencia","cuarta resistencia","quinta resistencia","sexta resistencia","tercer soporte","sexto soporte","décima resistencia"],
   "range": ["#8000c0","#000000","#8a10cc","#000000","#d000d0","#a020d8","#000000","#d000d0","#c400dc","#000000","#000000","#000000","#000000"]},
  "legend": {"orient": "none", "legendX": 0, "legendY": 16, "direction": "horizontal", "title": null,
   "columnPadding": 5, "padding": 2, "labelFontSize": 11, "labelLimit": 200, "labelOffset": -12,
   "labelExpr": "datum.label == 'sexta resistencia' ? 'sexta resist' : datum.label",
   "symbolSize": 1, "symbolType": "circle", "symbolOpacity": 0, "symbolStrokeWidth": 0,
   "fillColor": "#cddbe4", "strokeColor": "#9fb2bf", "zindex": 1,
   "values": ["soporte9","soporte10","soporte11","soporte12","primera resistencia","segunda resistencia","tercera resistencia","cuarta resistencia","quinta resistencia","sexta resistencia"],
   "encode": {"labels": {"update": {"fill": {"scale": "stroke", "field": "value"}}}}}}}},
{"data": {"name": "tendencia"},
 "mark": {"type": "line", "color": "#0c0c8a", "strokeWidth": 2, "clip": true},
 "encoding": {
  "x": {"field": "t", "type": "temporal"},
  "y": {"field": "v", "type": "quantitative"}}},
{"data": {"name": "velas"},
 "mark": {"type": "rule", "strokeWidth": 1.6, "clip": true},
 "encoding": {
  "x": {"field": "t", "type": "temporal"},
  "y": {"field": "lo", "type": "quantitative"},
  "y2": {"field": "hi"},
  "color": {"condition": {"test": "datum.sentido == 'sube'", "value": "#4cc23e"}, "value": "#e6574f"}}},
{"data": {"name": "mm"},
 "mark": {"type": "line", "strokeWidth": 3, "clip": true},
 "encoding": {
  "x": {"field": "t", "type": "temporal"},
  "y": {"field": "v", "type": "quantitative"},
  "detail": {"field": "tramo", "type": "nominal"},
  "color": {"condition": {"test": "datum.sentido == 'sube'", "value": "#3a9e12"}, "value": "#ff1414"}}},
{"data": {"values": [{}]},
 "mark": {"type": "text", "text": "©IT-Finance.com", "align": "left", "baseline": "bottom", "dx": 3, "dy": -1, "fontSize": 11, "color": "#000000"},
 "encoding": {"x": {"datum": {"year":2018,"month":10,"date":23,"hours":0,"minutes":8,"seconds":36}, "type": "temporal"}, "y": {"datum": 24744.7, "type": "quantitative"}}},
{"data": {"values": [{}]},
 "mark": {"type": "rect", "fill": {"gradient": "linear", "x1": 0, "y1": 0, "x2": 0, "y2": 1, "stops": [{"offset": 0, "color": "#d5e5ee"}, {"offset": 1, "color": "#b9d0dc"}]}, "yOffset": -17, "x2Offset": 53},
 "encoding": {"x": {"datum": {"year":2018,"month":10,"date":23,"hours":0,"minutes":8,"seconds":36}, "type": "temporal"}, "x2": {"datum": {"year":2018,"month":10,"date":24,"hours":14,"minutes":33,"seconds":6}}, "y": {"datum": 25738, "type": "quantitative"}, "y2": {"datum": 25738}}},
{"data": {"values": [{}]},
 "mark": {"type": "text", "text": "Wall Street Cash (1€)\u00a0\u00a0\u00a05 minutos\u00a0\u00a0\u00a025.105,1 (-0,47%)\u00a0\u00a0\u00a024-oct-2018 10:05:04", "align": "left", "baseline": "middle", "dx": 22, "dy": -9, "fontSize": 11.5, "fontWeight": "bold", "color": "#000000"},
 "encoding": {"x": {"datum": {"year":2018,"month":10,"date":23,"hours":0,"minutes":8,"seconds":36}, "type": "temporal"}, "y": {"datum": 25738, "type": "quantitative"}}},
{"data": {"values": [{}]},
 "mark": {"type": "text", "text": "IT-Finance.com", "align": "right", "baseline": "middle", "dx": 50, "dy": -9, "fontSize": 12.5, "fontWeight": "bold", "color": "#000000"},
 "encoding": {"x": {"datum": {"year":2018,"month":10,"date":24,"hours":14,"minutes":33,"seconds":6}, "type": "temporal"}, "y": {"datum": 25738, "type": "quantitative"}}},
{"data": {"name": "etiquetas"},
 "transform": [{"filter": "datum.serie != 'Precio'"}],
 "mark": {"type": "point", "shape": "M-1,0H1", "size": 16, "filled": false, "strokeWidth": 1, "opacity": 1, "xOffset": 2},
 "encoding": {"x": {"datum": {"year":2018,"month":10,"date":24,"hours":14,"minutes":33,"seconds":6}, "type": "temporal"}, "y": {"field": "v", "type": "quantitative"}, "color": {"field": "serie", "type": "nominal"}}},
{"data": {"name": "etiquetas"},
 "transform": [{"filter": "datum.serie == 'MM (Exponencial 8)'"}],
 "mark": {"type": "point", "shape": "M-1,-0.3125H1V0.3125H-1Z", "size": 2304, "filled": true, "fill": "#e2e9f0", "stroke": "#8a99a8", "strokeWidth": 1, "opacity": 1, "xOffset": 27},
 "encoding": {"x": {"datum": {"year":2018,"month":10,"date":24,"hours":14,"minutes":33,"seconds":6}, "type": "temporal"}, "y": {"field": "v", "type": "quantitative"}}},
{"data": {"name": "etiquetas"},
 "transform": [{"filter": "datum.serie == 'MM (Exponencial 8)'"}],
 "mark": {"type": "text", "align": "left", "baseline": "middle", "xOffset": 5, "fontSize": 11.5},
 "encoding": {"x": {"datum": {"year":2018,"month":10,"date":24,"hours":14,"minutes":33,"seconds":6}, "type": "temporal"}, "y": {"field": "v", "type": "quantitative"}, "text": {"field": "v", "type": "quantitative", "format": ",.1f"}, "color": {"field": "serie", "type": "nominal"}}},
{"data": {"name": "etiquetas"},
 "transform": [{"filter": "datum.serie != 'MM (Exponencial 8)' && datum.serie != 'Precio'"}],
 "mark": {"type": "point", "shape": "M-1,-0.3125H1V0.3125H-1Z", "size": 2304, "filled": true, "fill": "#e2e9f0", "stroke": "#8a99a8", "strokeWidth": 1, "opacity": 1, "xOffset": 27},
 "encoding": {"x": {"datum": {"year":2018,"month":10,"date":24,"hours":14,"minutes":33,"seconds":6}, "type": "temporal"}, "y": {"field": "v", "type": "quantitative"}}},
{"data": {"name": "etiquetas"},
 "transform": [{"filter": "datum.serie != 'MM (Exponencial 8)' && datum.serie != 'Precio'"}],
 "mark": {"type": "text", "align": "left", "baseline": "middle", "xOffset": 5, "fontSize": 11.5},
 "encoding": {"x": {"datum": {"year":2018,"month":10,"date":24,"hours":14,"minutes":33,"seconds":6}, "type": "temporal"}, "y": {"field": "v", "type": "quantitative"}, "text": {"field": "v", "type": "quantitative", "format": ",.1f"}, "color": {"field": "serie", "type": "nominal"}}},
{"data": {"name": "etiquetas"},
 "transform": [{"filter": "datum.serie == 'Precio'"}],
 "mark": {"type": "point", "shape": "M-1,-0.3125H1V0.3125H-1Z", "size": 2304, "filled": true, "fill": "#f4f7fa", "stroke": "#8a99a8", "strokeWidth": 1, "opacity": 1, "xOffset": 27, "yOffset": 8},
 "encoding": {"x": {"datum": {"year":2018,"month":10,"date":24,"hours":14,"minutes":33,"seconds":6}, "type": "temporal"}, "y": {"field": "v", "type": "quantitative"}}},
{"data": {"name": "etiquetas"},
 "transform": [{"filter": "datum.serie == 'Precio'"}],
 "mark": {"type": "text", "align": "left", "baseline": "middle", "xOffset": 5, "yOffset": 8, "fontSize": 11.5},
 "encoding": {"x": {"datum": {"year":2018,"month":10,"date":24,"hours":14,"minutes":33,"seconds":6}, "type": "temporal"}, "y": {"field": "v", "type": "quantitative"}, "text": {"field": "v", "type": "quantitative", "format": ",.1f"}, "color": {"field": "serie", "type": "nominal"}}}
]
}
